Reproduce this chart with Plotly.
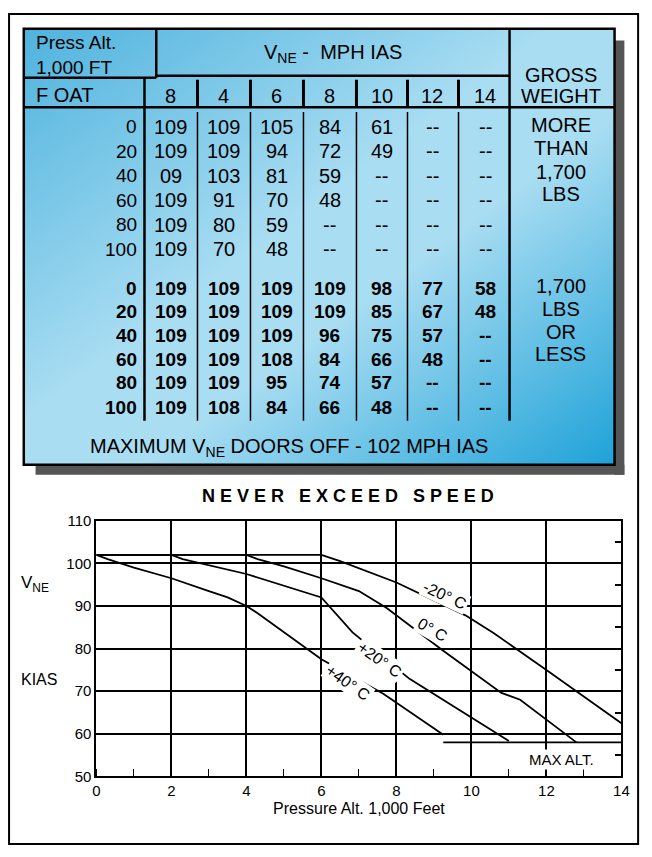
import plotly.graph_objects as go
import base64

W, H = 644, 849
OFF = 8  # browser body margin

# chart data (pressure alt in 1,000 ft, KIAS)
alt_m20 = [0, 6.0, 6.5, 8.0, 9.84, 10.6, 12.0, 14.0]
vne_m20 = [102, 102, 100.5, 95.5, 87.8, 83.6, 75.0, 62.5]
alt_0 = [0, 4.0, 4.3, 5.0, 6.0, 7.0, 7.74, 9.23, 10.8, 11.3, 12.8]
vne_0 = [102, 102, 101, 99.3, 96.5, 93.5, 89.5, 79.6, 69.6, 68.0, 58.0]
alt_20 = [0, 2.0, 2.3, 4.0, 6.0, 6.83, 8.35, 11.0]
vne_20 = [102, 102, 101, 97.5, 92.0, 83.8, 72.9, 58.3]
alt_40 = [0, 0.3, 1.0, 2.0, 3.0, 3.5, 4.0, 4.3, 6.0, 7.65, 9.25]
vne_40 = [102, 101, 99, 96.5, 93.5, 92, 90, 88.3, 77.5, 69.4, 59.8]
max_alt_x = [9.25, 14]
max_alt_y = [58, 58]

# table data
alt_cols = ["8", "4", "6", "8", "10", "12", "14"]
oat_rows = ["0", "20", "40", "60", "80", "100"]
heavy = [
    ["109", "109", "105", "84", "61", "--", "--"],
    ["109", "109", "94", "72", "49", "--", "--"],
    ["09", "103", "81", "59", "--", "--", "--"],
    ["109", "91", "70", "48", "--", "--", "--"],
    ["109", "80", "59", "--", "--", "--", "--"],
    ["109", "70", "48", "--", "--", "--", "--"],
]
light = [
    ["109", "109", "109", "109", "98", "77", "58"],
    ["109", "109", "109", "109", "85", "67", "48"],
    ["109", "109", "109", "96", "75", "57", "--"],
    ["109", "109", "108", "84", "66", "48", "--"],
    ["109", "109", "95", "74", "57", "--", "--"],
    ["109", "108", "84", "66", "48", "--", "--"],
]


def px(x):
    return (x - OFF) / W


def py(y):
    return 1 - (y - OFF) / H


FONT = "Liberation Sans, Arial"
fig = go.Figure()

for xs, ys in [(alt_m20, vne_m20), (alt_0, vne_0), (alt_20, vne_20), (alt_40, vne_40), (max_alt_x, max_alt_y)]:
    fig.add_trace(go.Scatter(x=xs, y=ys, mode="lines", line=dict(color="black", width=1.8),
                             showlegend=False, hoverinfo="skip"))
fig.add_trace(go.Scatter(x=[0], y=[50], yaxis="y2", mode="markers", marker=dict(opacity=0),
                         showlegend=False, hoverinfo="skip"))

shapes = []
# outer frame
shapes.append(dict(type="rect", xref="paper", yref="paper", x0=px(5), x1=px(646), y0=py(852), y1=py(5),
                   line=dict(color="black", width=2)))
# shadow strips (right and bottom)
shapes.append(dict(type="rect", xref="paper", yref="paper", x0=px(622), x1=px(632), y0=py(475), y1=py(32),
                   fillcolor="#555555", line=dict(width=0)))
shapes.append(dict(type="rect", xref="paper", yref="paper", x0=px(32), x1=px(632), y0=py(475), y1=py(465),
                   fillcolor="#555555", line=dict(width=0)))

svg = ('<svg xmlns="http://www.w3.org/2000/svg" width="600" height="445" preserveAspectRatio="none">'
       '<defs><linearGradient id="g" x1="0" y1="0" x2="1" y2="1">'
       '<stop offset="0" stop-color="#4fb3de"/><stop offset="0.45" stop-color="#a9ddf2"/>'
       '<stop offset="0.6" stop-color="#a9ddf2"/><stop offset="1" stop-color="#1ea2d8"/>'
       '</linearGradient></defs><rect width="600" height="445" fill="url(#g)"/></svg>')
src = "data:image/svg+xml;base64," + base64.b64encode(svg.encode()).decode()
fig.add_layout_image(dict(source=src, xref="paper", yref="paper", x=px(20), y=py(20),
                          sizex=px(622) - px(20), sizey=(465 - 20) / H, sizing="stretch",
                          xanchor="left", yanchor="top", layer="below"))


def line(x0, y0, x1, y1, w=2.5):
    shapes.append(dict(type="line", xref="paper", yref="paper", x0=px(x0), y0=py(y0), x1=px(x1), y1=py(y1),
                       line=dict(color="black", width=w)))


# table border and grid
shapes.append(dict(type="rect", xref="paper", yref="paper", x0=px(20), x1=px(622), y0=py(465), y1=py(20),
                   line=dict(color="black", width=2.5)))
line(155, 20, 155, 70)
line(20, 70, 155, 70)
line(155, 68, 515, 68)
line(515, 20, 515, 420)
line(143, 70, 143, 420)
line(143, 100, 622, 100)
line(20, 100, 143, 100)
seps = [197, 251, 305, 359, 411, 463]
for s in seps:
    line(s, 72, s, 100, 3)
    line(s, 105, s, 420, 1.5)

ann = []


def txt(x, y, t, size=20, anchor="center", bold=False, color="black", **kw):
    ann.append(dict(xref="paper", yref="paper", x=px(x), y=py(y), text=f"<b>{t}</b>" if bold else t,
                    showarrow=False, xanchor=anchor, yanchor="middle",
                    font=dict(family=FONT, size=size, color=color), **kw))


txt(30, 34, "Press Alt.", 19, "left")
txt(30, 60, "1,000 FT", 19, "left")
txt(335, 45, "V<sub>NE</sub> -  MPH IAS", 20)
txt(567, 67, "GROSS", 20)
txt(567, 89, "WEIGHT", 20)
txt(30, 88, "F OAT", 20, "left")
centers = [170, 224, 278, 332, 385, 436, 490]
for c, h in zip(centers, alt_cols):
    txt(c, 89, h, 20)
top_y = [120, 145, 170, 195, 220, 245]
bot_y = [285, 309, 333, 357, 381, 406]
for i, o in enumerate(oat_rows):
    txt(137, top_y[i], o, 19, "right")
    txt(137, bot_y[i], o, 19, "right", bold=True)
    for c, v in zip(centers, heavy[i]):
        txt(c, top_y[i], v, 20)
    for c, v in zip(centers, light[i]):
        txt(c, bot_y[i], v, 19, bold=True)
for y, t in zip([118, 142, 166, 189], ["MORE", "THAN", "1,700", "LBS"]):
    txt(567, y, t, 20)
for y, t in zip([283, 306, 329, 352], ["1,700", "LBS", "OR", "LESS"]):
    txt(567, y, t, 20)
txt(290, 447, "MAXIMUM V<sub>NE</sub> DOORS OFF - 102 MPH IAS", 20)

# chart texts
txt(350, 497, "<b>N E V E R   E X C E E D   S P E E D</b>", 18)
txt(15, 587, "V<sub>NE</sub>", 17, "left")
txt(15, 684, "KIAS", 16, "left")
for x, y, t, a in [(9.3, 92.5, "-20° C", 25), (8.95, 84.5, "0° C", 30),
                   (7.55, 77.5, "+20° C", 35), (6.7, 72.0, "+40° C", 35)]:
    ann.append(dict(x=x, y=y, xref="x", yref="y", text=t, showarrow=False, textangle=a,
                    bgcolor="white", font=dict(family=FONT, size=16, color="black")))
ann.append(dict(x=12.4, y=54, xref="x", yref="y", text="MAX ALT.", showarrow=False,
                bgcolor="white", font=dict(family=FONT, size=15, color="black")))

fig.update_layout(
    width=W, height=H, margin=dict(l=0, r=0, t=0, b=0),
    paper_bgcolor="white", plot_bgcolor="white",
    shapes=shapes, annotations=ann,
    xaxis=dict(domain=[px(94), px(629)], range=[0, 14], tickvals=list(range(0, 15, 2)),
               showgrid=True, gridcolor="black", gridwidth=1.5, zeroline=False,
               showline=True, linecolor="black", linewidth=2, mirror=True,
               ticks="", minor=dict(dtick=1, ticks="inside", ticklen=7, tickcolor="black", showgrid=False),
               tickfont=dict(family=FONT, size=15, color="black"),
               title=dict(text="Pressure Alt. 1,000 Feet", font=dict(family=FONT, size=16, color="black"),
                          standoff=4)),
    yaxis=dict(domain=[py(783), py(522)], range=[50, 110], tickvals=list(range(50, 111, 10)),
               showgrid=True, gridcolor="black", gridwidth=1.5, zeroline=False,
               showline=True, linecolor="black", linewidth=2, mirror=True, ticks="",
               tickfont=dict(family=FONT, size=15, color="black")),
    yaxis2=dict(overlaying="y", side="right", range=[50, 110], tickvals=list(range(55, 110, 10)),
                ticks="inside", ticklen=6, tickcolor="black", tickwidth=2, showticklabels=False,
                showgrid=False, zeroline=False),
)

fig.write_html("out.html")
